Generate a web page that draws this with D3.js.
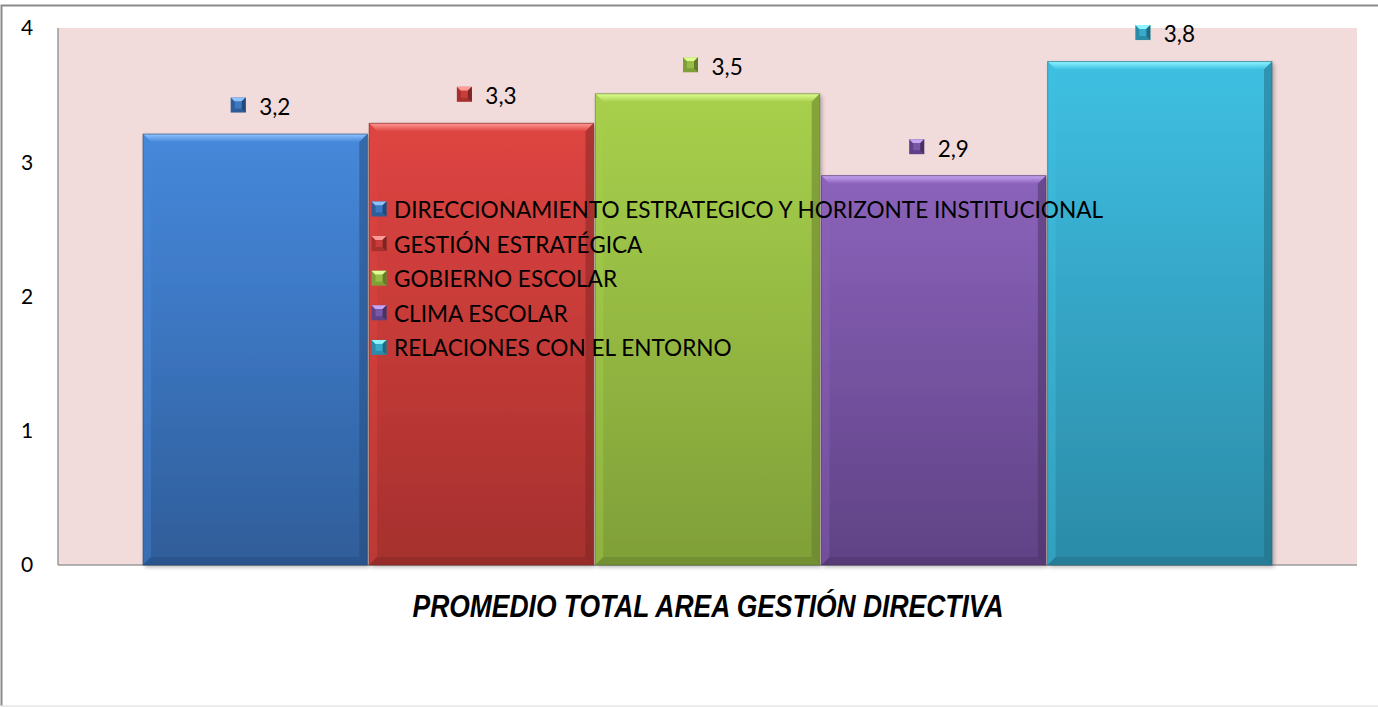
<!DOCTYPE html>
<html>
<head>
<meta charset="utf-8">
<script src="https://cdn.jsdelivr.net/npm/d3@7"></script>
<style>
  html, body { margin: 0; padding: 0; background: #fff; }
  svg { display: block; }
  text { font-family: Lato, "Open Sans", sans-serif; fill: #000; }
  text.axis-title { font-family: "Liberation Sans Narrow", "Arial Narrow", "Liberation Sans", sans-serif; font-weight: bold; font-style: italic; }
</style>
</head>
<body>
<svg id="chart" width="1378" height="707"></svg>
<script>
// ========= Data
const categories = [
  "DIRECCIONAMIENTO ESTRATEGICO Y HORIZONTE INSTITUCIONAL",
  "GESTIÓN ESTRATÉGICA",
  "GOBIERNO ESCOLAR",
  "CLIMA ESCOLAR",
  "RELACIONES CON EL ENTORNO"
];
const values = [3.21, 3.29, 3.51, 2.90, 3.75];
const valueLabels = ["3,2", "3,3", "3,5", "2,9", "3,8"];
const yTicks = [0, 1, 2, 3, 4];
const axisTitle = "PROMEDIO TOTAL AREA GESTIÓN DIRECTIVA";

// top / bottom colours for the bevelled bars
const colors = [
  { top: "#4688da", mid: "#3d78c4", bot: "#2f5d99", light: "#8fc3ff", dark: "#24497a" },
  { top: "#de4542", mid: "#c93c39", bot: "#a5302e", light: "#ff9a96", dark: "#7e2422" },
  { top: "#a8d04c", mid: "#98bd44", bot: "#7f9f38", light: "#e0ff96", dark: "#627a2a" },
  { top: "#8b63bb", mid: "#7a56a6", bot: "#5f4285", light: "#c7a6f2", dark: "#483264" },
  { top: "#3ec0e2", mid: "#37aacb", bot: "#2b8ba7", light: "#8ef4ff", dark: "#1f6a80" }
];

// ========= Layout
const svg = d3.select("#chart");
const plot = { left: 58, right: 1357, top: 28, bottom: 565 };

const x = d3.scaleBand()
  .domain(d3.range(categories.length))
  .range([143, 1272])
  .paddingInner(0.008);

const y = d3.scaleLinear().domain([0, 4]).range([plot.bottom, plot.top]);

// ========= Defs (gradients)
const defs = svg.append("defs");
colors.forEach((c, i) => {
  const g = defs.append("linearGradient")
    .attr("id", "grad" + i).attr("x1", 0).attr("y1", 0).attr("x2", 0).attr("y2", 1);
  g.append("stop").attr("offset", "0%").attr("stop-color", c.top);
  g.append("stop").attr("offset", "40%").attr("stop-color", c.mid);
  g.append("stop").attr("offset", "100%").attr("stop-color", c.bot);

  const h = defs.append("linearGradient")
    .attr("id", "hl" + i).attr("x1", 0).attr("y1", 0).attr("x2", 0).attr("y2", 1);
  h.append("stop").attr("offset", "0%").attr("stop-color", c.light);
  h.append("stop").attr("offset", "100%").attr("stop-color", c.top);
});
const shadow = defs.append("filter").attr("id", "shadow")
  .attr("x", "-5%").attr("y", "-5%").attr("width", "115%").attr("height", "115%");
shadow.append("feDropShadow").attr("dx", 2).attr("dy", 2).attr("stdDeviation", 2)
  .attr("flood-color", "#000").attr("flood-opacity", 0.3);

// ========= Outer frame
svg.append("path")
  .attr("d", "M1380,5.5 H1.5 V706")
  .attr("fill", "none").attr("stroke", "#8a8a8a").attr("stroke-width", 2);
svg.append("line")
  .attr("x1", 1).attr("x2", 1378).attr("y1", 706).attr("y2", 706)
  .attr("stroke", "#e4e4e4").attr("stroke-width", 1.5);

// ========= Plot area
svg.append("rect")
  .attr("x", plot.left).attr("y", plot.top)
  .attr("width", plot.right - plot.left).attr("height", plot.bottom - plot.top)
  .attr("fill", "#f2dcdb");

// axes lines
svg.append("line")
  .attr("x1", plot.left).attr("x2", plot.left).attr("y1", plot.top).attr("y2", plot.bottom)
  .attr("stroke", "#9a9a9a").attr("stroke-width", 1.5);
svg.append("line")
  .attr("x1", plot.left).attr("x2", plot.right).attr("y1", plot.bottom).attr("y2", plot.bottom)
  .attr("stroke", "#9a9a9a").attr("stroke-width", 1.5);

// y tick labels
svg.selectAll("text.ytick")
  .data(yTicks)
  .enter().append("text")
  .attr("class", "ytick")
  .attr("x", 27).attr("y", d => y(d))
  .attr("dy", "0.35em")
  .attr("text-anchor", "middle")
  .attr("font-size", 21)
  .text(d => d);

// ========= Bars
const bars = svg.selectAll("g.bar")
  .data(values)
  .enter().append("g")
  .attr("class", "bar");

bars.append("rect")
  .attr("x", (d, i) => x(i)).attr("y", d => y(d))
  .attr("width", x.bandwidth()).attr("height", d => y(0) - y(d))
  .attr("fill", (d, i) => `url(#grad${i})`)
  .attr("filter", "url(#shadow)");

// bevel: top highlight, left light edge, right / bottom dark edge
const bev = 8;
bars.append("path")
  .attr("d", (d, i) => {
    const x0 = x(i), x1 = x(i) + x.bandwidth(), y0 = y(d);
    return `M${x0},${y0} H${x1} L${x1 - bev},${y0 + bev} H${x0 + bev} Z`;
  })
  .attr("fill", (d, i) => `url(#hl${i})`);
bars.append("path")
  .attr("d", (d, i) => {
    const x0 = x(i), y0 = y(d), yb = y(0);
    return `M${x0},${y0} L${x0 + bev},${y0 + bev} V${yb - bev} L${x0},${yb} Z`;
  })
  .attr("fill", (d, i) => colors[i].top).attr("opacity", 0.4);
bars.append("path")
  .attr("d", (d, i) => {
    const x1 = x(i) + x.bandwidth(), y0 = y(d), yb = y(0);
    return `M${x1},${y0} L${x1 - bev},${y0 + bev} V${yb - bev} L${x1},${yb} Z`;
  })
  .attr("fill", (d, i) => colors[i].dark).attr("opacity", 0.5);
bars.append("path")
  .attr("d", (d, i) => {
    const x0 = x(i), x1 = x(i) + x.bandwidth(), yb = y(0);
    return `M${x0},${yb} L${x0 + bev},${yb - bev} H${x1 - bev} L${x1},${yb} Z`;
  })
  .attr("fill", (d, i) => colors[i].dark).attr("opacity", 0.4);
bars.append("rect")
  .attr("x", (d, i) => x(i)).attr("y", d => y(d))
  .attr("width", x.bandwidth()).attr("height", d => y(0) - y(d))
  .attr("fill", "none")
  .attr("stroke", (d, i) => colors[i].dark).attr("stroke-opacity", 0.6).attr("stroke-width", 1);

// ========= Marker helper (small bevelled square)
function marker(g, cx, cy, i) {
  const s = 15, h = s / 2, b = 4;
  const m = g.append("g").attr("transform", `translate(${cx - h},${cy - h})`);
  m.append("rect").attr("width", s).attr("height", s).attr("fill", colors[i].bot);
  m.append("path").attr("d", `M0,0 H${s} L${s - b},${b} H${b} Z`).attr("fill", colors[i].light);
  m.append("path").attr("d", `M${s},0 V${s} L${s - b},${s - b} V${b} Z`).attr("fill", colors[i].dark);
  m.append("rect").attr("x", b).attr("y", b).attr("width", s - 2 * b).attr("height", s - 2 * b)
    .attr("fill", colors[i].mid);
}

// ========= Value labels
const labels = svg.selectAll("g.vlabel")
  .data(values)
  .enter().append("g")
  .attr("class", "vlabel");
labels.each(function (d, i) {
  const g = d3.select(this);
  const cx = x(i) + x.bandwidth() / 2;
  const cy = y(d) - 27;
  marker(g, cx - 17, cy - 2, i);
  g.append("text")
    .attr("x", cx + 4).attr("y", cy)
    .attr("dy", "0.35em")
    .attr("font-size", 22.5)
    .text(valueLabels[i]);
});

// ========= Legend
const legend = svg.append("g").attr("class", "legend");
categories.forEach((c, i) => {
  const ly = 209 + i * 34.6;
  marker(legend, 379, ly, i);
  legend.append("text")
    .attr("x", 394).attr("y", ly + 1)
    .attr("dy", "0.35em")
    .attr("font-size", 22.6)
    .text(c);
});

// ========= Category axis title
svg.append("text")
  .attr("class", "axis-title")
  .attr("x", 708).attr("y", 606)
  .attr("dy", "0.35em")
  .attr("text-anchor", "middle")
  .attr("font-size", 32)
  .attr("textLength", 591)
  .attr("lengthAdjust", "spacingAndGlyphs")
  .text(axisTitle);
</script>
</body>
</html>
